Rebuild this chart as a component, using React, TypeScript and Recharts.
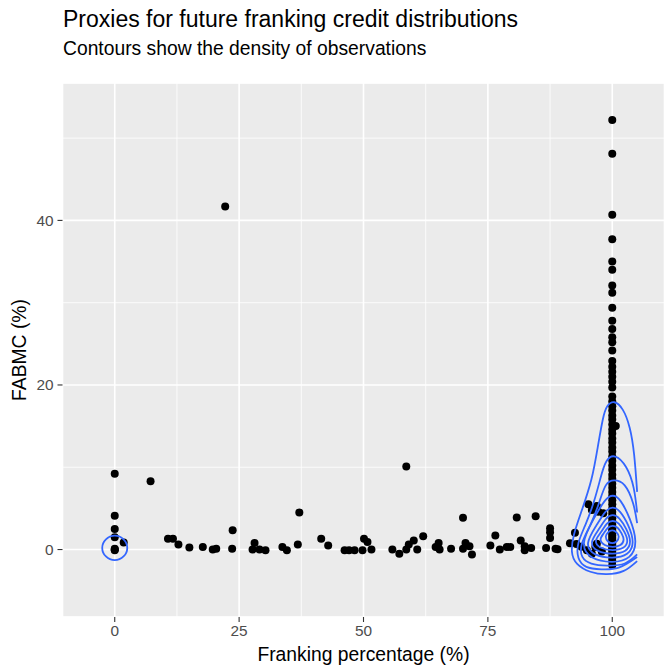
import React from 'react';
import { ScatterChart, Scatter, XAxis, YAxis, CartesianGrid } from 'recharts';

const WIDTH = 666;
const HEIGHT = 668;
const FONT = '"Liberation Sans", Arial, Helvetica, sans-serif';
const CONTOUR = '#3366FF';

// Franking percentage of each company (partly / unfranked payers)
const frankingPct = [
  0, 0, 0, 0, 0, 0, 0, 1.8, 7.2, 10.7, 11.7, 12.8, 15.0, 17.7, 19.7, 20.4, 22.2, 23.7, 23.6,
  28.1, 27.7, 29.1, 30.3, 33.7, 34.6, 36.8, 37.1, 41.5, 42.9, 46.2, 47.1, 48.2, 49.8, 50.1,
  50.8, 51.6, 55.8, 57.2, 58.6, 58.6, 59.1, 60.1, 60.8, 62.0, 64.5, 65.1, 65.3, 67.6, 70.0,
  70.0, 70.5, 71.3, 71.8, 75.5, 76.5, 77.4, 78.8, 79.5, 80.8, 81.6, 82.4, 82.4, 83.7, 84.6,
  86.7, 87.5, 87.5, 87.5, 88.6, 89.0, 92.5, 91.5, 92.8, 93.8, 95.2, 95.9, 96.9, 97.2, 98.2,
  94.9, 95.9, 96.6, 96.9, 97.9, 100.7,
];

// FABMC for the same companies
const fabmcPct = [
  9.2, 4.1, 2.5, 1.5, 0.1, 0, -0.1, 0.85, 8.3, 1.3, 1.3, 0.6, 0.25, 0.3, 0, 0.1, 41.7, 2.35, 0.1,
  0.8, 0, 0, -0.1, 0.3, -0.1, 0.6, 4.5, 1.3, 0.5, -0.1, -0.1, -0.1, -0.1, 1.3,
  0.9, 0, 0, -0.5, 10.1, 0, 0.6, 1.1, 0, 1.6, 0.3, 0.8, 0, 0.1, 3.85,
  0.1, 0.8, 0.4, -0.6, 0.5, 1.7, 0, 0.3, 0.3, 3.9, 1.1, 0.4, -0.1, 0.2, 4.05,
  0.2, 2.6, 2.1, 1.4, 0.1, 0.04, 2.05, 0.77, 0.68, 0.35, 5.5, 4.8, 5.3, 4.6, 4.4,
  -0.1, -0.5, 0.3, 0.7, -0.25, 15.0,
];

// FABMC of fully franked (100%) payers
const fullyFrankedFabmc = [
  52.2, 48.1, 40.7, 37.7, 35.0, 34.0, 32.1, 31.2, 29.4, 27.8, 26.8, 25.8, 25.2, 24.2, 22.9,
  22.2, 21.6, 21.0, 20.4, 19.7, 18.6, 18.0, 17.4, 16.9, 16.3, 15.8, 15.2, 14.6, 14.1, 13.5,
  13.0, 12.4, 11.9, 11.3, 10.8, 10.2, 9.7, 9.1, 8.6, 8.0, 7.5, 7.0, 6.5, 6.0, 5.5, 5.0, 4.6,
  4.2, 3.8, 3.4, 3.0, 2.6, 2.3, 2.0, 1.7, 1.4, 1.1, 0.8, 0.5, 0.2, 0, -0.3, -0.6, -1.0, -1.4,
  -1.9,
];

// density contour paths, [franking, fabmc] vertices
const contourZero = [
  [0, 1.85], [1.95, 1.35], [2.8, 0.2], [1.95, -0.95], [0, -1.45], [-1.95, -0.95], [-2.8, 0.2], [-1.95, 1.35],
];
const contourOuter1 = [
  [105, 7.0], [104.4, 11.5], [103.5, 14.8], [102.1, 17.0], [100.4, 17.9], [99.0, 17.4], [98.1, 15.8],
  [97.1, 12.5], [95.8, 8.5], [93.9, 4.8], [92.3, 1.8], [91.9, -0.3], [92.9, -1.7], [95.6, -2.7],
  [98.9, -3.0], [102.3, -2.6], [105, -1.4],
];
const contourOuter2 = [
  [105, 4.5], [104.3, 7.5], [102.8, 10.0], [100.6, 11.3], [98.8, 10.7], [97.6, 8.6], [96.3, 5.8],
  [94.6, 3.0], [93.2, 0.8], [93.2, -1.0], [94.8, -2.1], [97.8, -2.4], [101.3, -2.2], [105, -0.9],
];
const contourOuter3 = [
  [105, 3.2], [104.2, 5.6], [102.5, 7.8], [100.4, 8.4], [98.7, 7.8], [97.3, 5.6], [95.6, 3.0],
  [93.9, 0.7], [94.0, -0.9], [95.8, -1.7], [99.0, -1.95], [102.5, -1.7], [105, -0.6],
];
const contourInner = [
  [[100.1, 6.7], [101.6, 6.2], [103.6, 3.8], [105.1, 0.9], [103.8, -1.15], [100.1, -1.65], [95.6, -1.2], [93.5, 0.6], [96.3, 3.8], [98.6, 6.2]],
  [[100.1, 5.25], [101.5, 4.8], [103.3, 3.0], [104.5, 0.8], [103.3, -0.7], [100.1, -1.1], [96.3, -0.75], [94.4, 0.6], [96.9, 3.0], [98.7, 4.8]],
  [[100.1, 4.3], [101.4, 3.95], [102.9, 2.5], [103.9, 0.9], [102.9, -0.3], [100.1, -0.6], [96.9, -0.3], [95.3, 0.8], [97.4, 2.5], [98.8, 3.95]],
  [[100.1, 3.55], [101.3, 3.3], [102.5, 2.15], [103.3, 1.0], [102.4, 0.1], [100.1, -0.15], [97.6, 0.1], [96.2, 1.0], [97.9, 2.15], [98.9, 3.3]],
  [[100.1, 2.95], [101.1, 2.75], [101.9, 1.95], [102.5, 1.2], [101.8, 0.45], [100.1, 0.25], [98.4, 0.45], [97.3, 1.2], [98.3, 1.95], [99.1, 2.75]],
  [[100.0, 2.4], [100.9, 2.15], [101.5, 1.55], [100.9, 0.9], [100.0, 0.7], [99.1, 0.9], [98.5, 1.55], [99.1, 2.15]],
];

const xTicks = [0, 25, 50, 75, 100];
const xMinorTicks = [12.5, 37.5, 62.5, 87.5];
const yTicks = [0, 20, 40];
const yMinorTicks = [10, 30, 50];
const xDomain = [-10.5, 110.5];
const yDomain = [-8.2, 56.7];

const toPts = (pairs: number[][]) => pairs.map(([x, y]) => ({ x, y }));

const observations = frankingPct
  .map((x, i) => ({ x, y: fabmcPct[i] }))
  .concat(fullyFrankedFabmc.map((y) => ({ x: 100, y })));

const openContours = [contourOuter1, contourOuter2, contourOuter3].map(toPts);
const closedContours = [contourZero, ...contourInner].map(toPts);

const Dot = (p: any) => <circle cx={p.cx} cy={p.cy} r={4} fill="#000" />;
const NoDot = () => <g />;

const tickStyle = { fill: '#4D4D4D', fontSize: 15.4, fontFamily: FONT };

export default function App() {
  return (
    <div style={{ position: 'absolute', left: 0, top: 0, width: WIDTH, height: HEIGHT, background: '#fff', fontFamily: FONT }}>
      <div style={{ position: 'absolute', left: 63, top: 6, fontSize: 23, color: '#000', whiteSpace: 'nowrap' }}>
        Proxies for future franking credit distributions
      </div>
      <div style={{ position: 'absolute', left: 63, top: 38, fontSize: 19.3, color: '#000', whiteSpace: 'nowrap' }}>
        Contours show the density of observations
      </div>
      <ScatterChart width={WIDTH} height={HEIGHT} margin={{ top: 83, right: 1.5, bottom: 18, left: 0 }}>
        <XAxis xAxisId="minor" type="number" dataKey="x" domain={xDomain} ticks={xMinorTicks} allowDataOverflow hide />
        <YAxis yAxisId="minor" type="number" dataKey="y" domain={yDomain} ticks={yMinorTicks} allowDataOverflow hide />
        <CartesianGrid xAxisId="minor" yAxisId="minor" fill="#EBEBEB" fillOpacity={1} stroke="#FFFFFF" strokeWidth={0.8} />
        <CartesianGrid stroke="#FFFFFF" strokeWidth={1.6} />
        <XAxis
          type="number"
          dataKey="x"
          domain={xDomain}
          ticks={xTicks}
          allowDataOverflow
          axisLine={false}
          tickLine={{ stroke: '#333333', strokeWidth: 1.1 }}
          tickSize={5}
          tickMargin={3}
          height={33}
          tick={tickStyle}
        />
        <YAxis
          type="number"
          dataKey="y"
          domain={yDomain}
          ticks={yTicks}
          allowDataOverflow
          axisLine={false}
          tickLine={{ stroke: '#333333', strokeWidth: 1.1 }}
          tickSize={5}
          tickMargin={4}
          width={62.5}
          tick={tickStyle}
        />
        <Scatter data={observations} shape={Dot} isAnimationActive={false} />
        {openContours.map((pts, i) => (
          <Scatter
            key={`open-${i}`}
            data={pts}
            line={{ stroke: CONTOUR, strokeWidth: 1.8, fill: 'none' }}
            lineJointType="natural"
            shape={NoDot}
            isAnimationActive={false}
          />
        ))}
        {closedContours.map((pts, i) => (
          <Scatter
            key={`closed-${i}`}
            data={pts}
            line={{ stroke: CONTOUR, strokeWidth: 1.8, fill: 'none' }}
            lineJointType="basisClosed"
            shape={NoDot}
            isAnimationActive={false}
          />
        ))}
      </ScatterChart>
      <div
        style={{
          position: 'absolute',
          left: 363.5,
          top: 655,
          fontSize: 19.3,
          color: '#000',
          whiteSpace: 'nowrap',
          transform: 'translate(-50%, -50%)',
        }}
      >
        Franking percentage (%)
      </div>
      <div
        style={{
          position: 'absolute',
          left: 20,
          top: 350,
          fontSize: 19.3,
          color: '#000',
          whiteSpace: 'nowrap',
          transform: 'translate(-50%, -50%) rotate(-90deg)',
        }}
      >
        FABMC (%)
      </div>
    </div>
  );
}
